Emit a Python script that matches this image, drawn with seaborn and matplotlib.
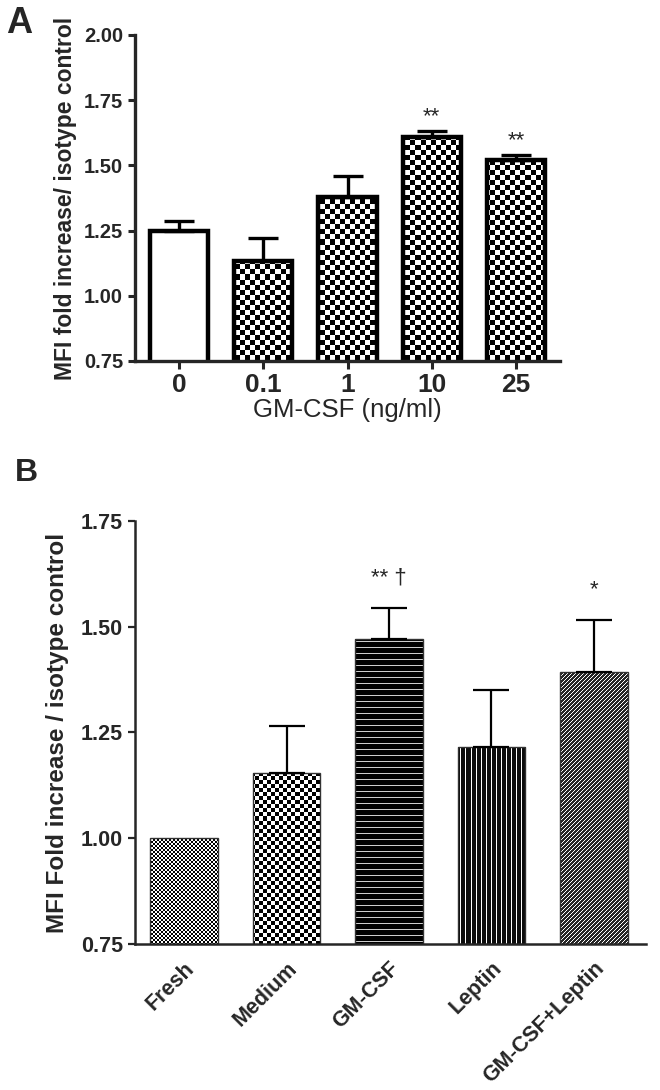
import numpy as np
import pandas as pd
import matplotlib
matplotlib.use("Agg")
import matplotlib.pyplot as plt
import seaborn as sns

# ---- data: panel A ----
doses = ["0", "0.1", "1", "10", "25"]
mfi_a = [1.25, 1.135, 1.38, 1.607, 1.52]
sem_a = [0.035, 0.085, 0.08, 0.023, 0.02]
stars_a = ["", "", "", "**", "**"]

# ---- data: panel B ----
groups = ["Fresh", "Medium", "GM-CSF", "Leptin", "GM-CSF+Leptin"]
mfi_b = [1.0, 1.155, 1.47, 1.215, 1.392]
sem_b = [0.0, 0.11, 0.075, 0.135, 0.125]
stars_b = ["", "", "** \u2020", "", "*"]

sns.set_style("ticks")
plt.rcParams["font.family"] = ["Liberation Sans", "DejaVu Sans"]
plt.rcParams["font.weight"] = "bold"

fig = plt.figure(figsize=(6.6, 10.9), dpi=100)
W, H = 660, 1090
ax_a = fig.add_axes([135 / W, 1 - 361 / H, 425 / W, 326 / H])
ax_b = fig.add_axes([135 / W, 1 - 944 / H, 511 / W, 423 / H])


def pattern(kind, w, h):
    j, i = np.meshgrid(np.arange(w), np.arange(h))
    if kind.startswith("checker"):
        c = int(kind[7:])
        return ((i // c + j // c) % 2).astype(float)
    if kind == "hlines":
        return np.where(i % 6 == 0, 0.8, 0.0)
    if kind == "vlines":
        return np.where(j % 5 == 0, 1.0, 0.05)
    if kind == "diag":
        return np.where((i + j) % 4 == 0, 1.0, 0.15)
    return np.ones((h, w))


def fill_bars(ax, kinds):
    fig.canvas.draw()
    bb = ax.get_window_extent()
    w, h = int(round(bb.width)), int(round(bb.height))
    x0, x1 = ax.get_xlim()
    y0, y1 = ax.get_ylim()
    for patch, kind in zip(ax.patches, kinds):
        if kind is None:
            continue
        img = ax.imshow(pattern(kind, w, h), cmap="gray", vmin=0, vmax=1,
                        extent=[x0, x1, y0, y1], aspect="auto",
                        interpolation="nearest", origin="upper", zorder=1)
        img.set_clip_path(patch)
    ax.set_xlim(x0, x1)
    ax.set_ylim(y0, y1)


def upper_errors(ax, vals, errs, lw, cap):
    idx = [k for k, e in enumerate(errs) if e > 0]
    ax.errorbar(idx, [vals[k] for k in idx],
                yerr=[np.zeros(len(idx)), [errs[k] for k in idx]], fmt="none",
                ecolor="black", elinewidth=lw, capsize=cap, capthick=lw,
                zorder=3)


# ---------------- panel A ----------------
df_a = pd.DataFrame({"dose": doses, "mfi": mfi_a})
sns.barplot(data=df_a, x="dose", y="mfi", ax=ax_a, color="white",
            edgecolor="black", linewidth=3.2, width=0.69, zorder=2)
for p in ax_a.patches:
    p.set_facecolor("none")
upper_errors(ax_a, mfi_a, sem_a, 2.4, 11)
ax_a.set_ylim(0.75, 2.0)
ax_a.set_xlim(-0.52, 4.52)
ticks_a = [0.75, 1.0, 1.25, 1.5, 1.75, 2.0]
ax_a.set_yticks(ticks_a)
ax_a.set_yticklabels([f"{v:.2f}" for v in ticks_a], fontsize=14.5,
                     fontweight="bold")
ax_a.set_xticks(range(len(doses)))
ax_a.set_xticklabels(doses, fontsize=19, fontweight="bold")
ax_a.tick_params(axis="both", width=2.2, length=5, direction="out")
ax_a.tick_params(axis="x", length=6, pad=3)
for s in ["left", "bottom"]:
    ax_a.spines[s].set_linewidth(2.4)
sns.despine(ax=ax_a)
ax_a.set_xlabel("GM-CSF (ng/ml)", fontsize=18.5, fontweight="normal",
                labelpad=0)
ax_a.set_ylabel("MFI fold increase/ isotype control", fontsize=16.5,
                fontweight="bold", labelpad=5)
for k, s in enumerate(stars_a):
    if s:
        ax_a.text(k, mfi_a[k] + sem_a[k] + 0.015, s, ha="center", va="bottom",
                  fontsize=16, fontweight="normal")
fill_bars(ax_a, [None, "checker5", "checker5", "checker5", "checker5"])

# ---------------- panel B ----------------
df_b = pd.DataFrame({"group": groups, "mfi": mfi_b})
sns.barplot(data=df_b, x="group", y="mfi", ax=ax_b, color="white",
            edgecolor="#333333", linewidth=1.0, width=0.66, zorder=2)
for p in ax_b.patches:
    p.set_facecolor("none")
upper_errors(ax_b, mfi_b, sem_b, 1.6, 13)
ax_b.set_ylim(0.75, 1.75)
ax_b.set_xlim(-0.48, 4.51)
ticks_b = [0.75, 1.0, 1.25, 1.5, 1.75]
ax_b.set_yticks(ticks_b)
ax_b.set_yticklabels([f"{v:.2f}" for v in ticks_b], fontsize=15.5,
                     fontweight="bold")
ax_b.set_xticks(range(len(groups)))
ax_b.set_xticklabels(groups, fontsize=15.5, fontweight="bold", rotation=45,
                     ha="right", rotation_mode="anchor")
ax_b.tick_params(axis="y", width=1.6, length=5, direction="out")
ax_b.tick_params(axis="x", length=0, pad=10)
for s in ["left", "bottom"]:
    ax_b.spines[s].set_linewidth(1.8)
sns.despine(ax=ax_b)
ax_b.set_xlabel("")
ax_b.set_ylabel("MFI Fold increase / isotype control", fontsize=17.5,
                fontweight="bold", labelpad=9)
for k, s in enumerate(stars_b):
    if s:
        ax_b.text(k, mfi_b[k] + sem_b[k] + 0.045, s, ha="center", va="bottom",
                  fontsize=16, fontweight="normal")
fill_bars(ax_b, ["checker2", "checker4", "hlines", "vlines", "diag"])

fig.text(6 / W, 1 - 6 / H, "A", fontsize=26, fontweight="bold", va="top")
fig.text(15 / W, 1 - 458 / H, "B", fontsize=23, fontweight="bold", va="top")

fig.savefig("out.png", dpi=100)
